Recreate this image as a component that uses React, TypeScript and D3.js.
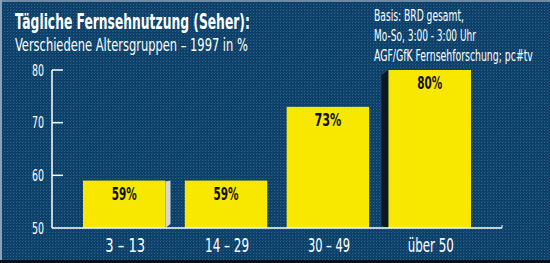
import React from "react";
import * as d3 from "d3";

const categories = ["3 – 13", "14 – 29", "30 – 49", "über 50"];
const values = [59, 59, 73, 80];
const valueLabels = ["59%", "59%", "73%", "80%"];
const yTicks = [50, 60, 70, 80];
const titleLines = ["Tägliche Fernsehnutzung (Seher):", "Verschiedene Altersgruppen – 1997 in %"];
const sourceLines = ["Basis: BRD gesamt,", "Mo-So, 3:00 - 3:00 Uhr", "AGF/GfK Fernsehforschung; pc#tv"];

const W = 550;
const H = 263;
const FONT = "'DejaVu Sans Condensed', 'DejaVu Sans', sans-serif";

let ctx: CanvasRenderingContext2D | null = null;
function measure(text: string, size: number, weight: string): number {
  if (!ctx) ctx = document.createElement("canvas").getContext("2d");
  if (!ctx) return text.length * size * 0.5;
  ctx.font = `${weight} ${size}px 'DejaVu Sans Condensed', 'DejaVu Sans', sans-serif`;
  return ctx.measureText(text).width;
}

type CTProps = {
  text: string;
  x: number;
  y: number;
  size: number;
  width: number;
  anchor?: "start" | "middle" | "end";
  fill: string;
  weight?: string;
};

function CText({ text, x, y, size, width, anchor = "start", fill, weight = "normal" }: CTProps) {
  const natural = measure(text, size, weight);
  const s = natural > 0 ? width / natural : 1;
  return (
    <text
      transform={`translate(${x},${y}) scale(${s},1)`}
      textAnchor={anchor}
      fill={fill}
      fontFamily={FONT}
      fontSize={size}
      fontWeight={weight}
    >
      {text}
    </text>
  );
}

export default function App() {
  const y = d3.scaleLinear().domain([50, 80]).range([228, 70]);
  const x = d3.scaleBand<string>().domain(categories).range([83, 471]).paddingInner(0.19).paddingOuter(0);
  const base = y(50);
  const bw = x.bandwidth();
  const xLabelWidths = [40, 44, 42, 46];
  const valueLabelWidths = [25, 25, 27, 25];
  const sourceWidths = [90, 102, 159];

  return (
    <svg width={W} height={H} style={{ position: "absolute", left: 0, top: 0, display: "block" }}>
      <defs>
        <pattern id="bgp" width="3" height="3" patternUnits="userSpaceOnUse">
          <rect width="3" height="3" fill="#0e3f6b" />
          <rect x="1" y="1" width="1" height="1" fill="#2a6a7e" />
          <rect x="2" y="0" width="1" height="1" fill="#185176" />
        </pattern>
      </defs>
      <rect x={0} y={0} width={W} height={H} fill="url(#bgp)" />
      {/* frame */}
      <rect x={0} y={0} width={W} height={2} fill="#6d8aa2" />
      <rect x={0} y={0} width={2} height={H} fill="#8aa2b4" />
      <rect x={0} y={H - 3} width={W} height={3} fill="#0a1018" />

      {/* titles */}
      <CText text={titleLines[0]} x={15} y={29} size={22} width={235} fill="#ffffff" weight="bold" />
      <CText text={titleLines[1]} x={15} y={51} size={17} width={233} fill="#ffffff" />
      {sourceLines.map((s, i) => (
        <CText key={s} text={s} x={374} y={21 + i * 20} size={15} width={sourceWidths[i]} fill="#ffffff" />
      ))}

      {/* bars */}
      {categories.map((c, i) => {
        const x0 = x(c)!;
        const top = y(values[i]);
        return (
          <g key={c}>
            {i === 0 && (
              <polygon
                points={`${x0 + bw},${top + 1} ${x0 + bw + 5},${top} ${x0 + bw + 5},${base - 4} ${x0 + bw},${base}`}
                fill="#d5d9d2"
              />
            )}
            {i === 3 && (
              <polygon
                points={`${x0 - 7},${top + 5} ${x0},${top} ${x0},${base} ${x0 - 7},${base - 2}`}
                fill="#0b1824"
              />
            )}
            <rect x={x0} y={top} width={bw} height={base - top} fill="#f8e800" />
            <CText text={valueLabels[i]} x={x0 + bw / 2} y={top + 19} size={17} width={valueLabelWidths[i]}
              anchor="middle" fill="#111111" weight="bold" />
            <CText text={c} x={x0 + bw / 2 + 1} y={252} size={19.5} width={xLabelWidths[i]}
              anchor="middle" fill="#ffffff" />
          </g>
        );
      })}

      {/* axes */}
      <line x1={52} x2={52} y1={y(80)} y2={base} stroke="#ffffff" strokeWidth={1.5} />
      <line x1={52} x2={502} y1={base} y2={base} stroke="#ffffff" strokeWidth={1.5} />
      <line x1={502} x2={502} y1={base} y2={base - 3} stroke="#ffffff" strokeWidth={1} />
      {yTicks.map((t) => (
        <g key={t}>
          {t !== 50 && <line x1={52} x2={63} y1={y(t)} y2={y(t)} stroke="#ffffff" strokeWidth={1.5} />}
          <CText text={String(t)} x={44} y={y(t) + 5.5} size={15} width={12} anchor="end" fill="#ffffff" />
        </g>
      ))}
    </svg>
  );
}
